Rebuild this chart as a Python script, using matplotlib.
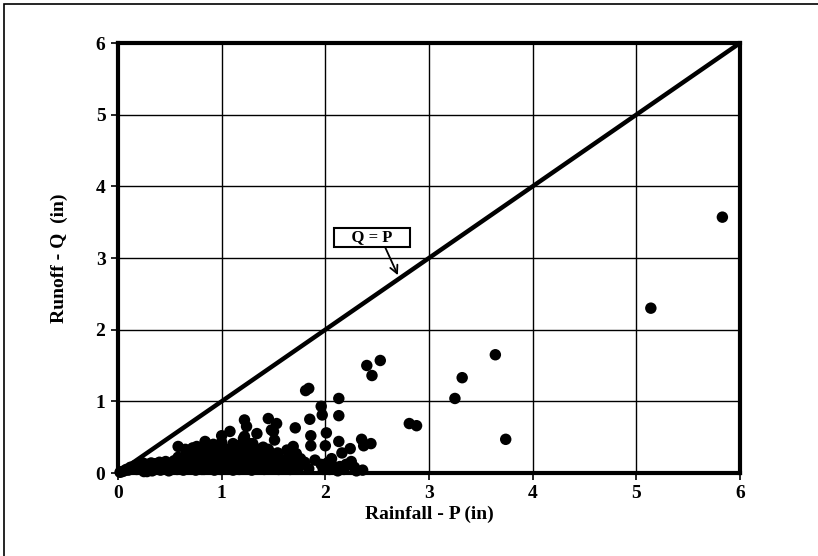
import matplotlib
matplotlib.use("Agg")
import matplotlib.pyplot as plt
from matplotlib.patches import Rectangle

# Scattered (upper) events: rainfall P (in), runoff Q (in)
p_upper = [5.83, 5.14, 3.64, 3.32, 3.25, 3.74, 2.53, 2.40, 2.45, 2.13, 2.13,
           2.81, 2.88, 1.84, 1.81, 1.96, 1.97, 1.85, 1.71, 1.86, 2.01, 1.86,
           2.00, 2.13, 2.35, 2.44, 2.37, 2.24, 2.16, 2.25, 2.08, 2.14, 2.36,
           1.45, 1.53, 1.50, 1.22, 1.24, 1.08, 1.00, 1.22, 1.34, 1.21, 1.48,
           1.11, 1.51, 1.27, 0.58, 0.76, 0.85, 0.84, 1.69, 1.63, 1.72, 1.53]
q_upper = [3.57, 2.30, 1.65, 1.33, 1.04, 0.47, 1.57, 1.50, 1.36, 1.04, 0.80,
           0.69, 0.66, 1.18, 1.15, 0.93, 0.81, 0.75, 0.63, 0.52, 0.56, 0.38,
           0.38, 0.44, 0.47, 0.41, 0.38, 0.34, 0.28, 0.16, 0.09, 0.09, 0.04,
           0.76, 0.69, 0.58, 0.74, 0.65, 0.58, 0.52, 0.51, 0.55, 0.48, 0.60,
           0.41, 0.46, 0.41, 0.37, 0.37, 0.41, 0.44, 0.37, 0.32, 0.27, 0.25]

# Dense band of small events
p_band = [0.02, 0.04, 0.06, 0.08, 0.10, 0.12, 0.14, 0.16, 0.18, 0.20, 0.22,
          0.24, 0.26, 0.28, 0.30, 0.32, 0.34, 0.36, 0.38, 0.40, 0.42, 0.44,
          0.46, 0.48, 0.50, 0.52, 0.54, 0.56, 0.58, 0.60, 0.62, 0.64, 0.66,
          0.68, 0.70, 0.72, 0.74, 0.76, 0.78, 0.80, 0.82, 0.84, 0.86, 0.88,
          0.90, 0.92, 0.94, 0.96, 0.98, 1.00, 1.02, 1.04, 1.06, 1.08, 1.10,
          1.12, 1.14, 1.16, 1.18, 1.20, 1.22, 1.24, 1.26, 1.28, 1.30, 1.32,
          1.34, 1.36, 1.38, 1.40, 1.42, 1.44, 1.46, 1.48, 1.50, 1.52, 1.56,
          1.60, 1.64, 1.68, 1.72, 1.76, 1.80, 1.90, 1.96, 2.02, 2.06, 2.20,
          0.25, 0.33, 0.41, 0.49, 0.57, 0.63, 0.69, 0.75, 0.81, 0.87, 0.93,
          0.99, 1.05, 1.11, 1.17, 1.23, 1.29, 1.35, 1.41, 1.47, 1.55, 1.62,
          0.65, 0.71, 0.79, 0.85, 0.91, 0.97, 1.03, 1.09, 1.15, 1.21, 1.27,
          1.33, 1.39, 1.45, 0.60, 0.67, 0.73, 0.83, 0.89, 0.95, 1.07, 1.13,
          1.19, 1.25, 1.31, 1.37, 1.43, 1.58, 1.66, 1.74, 1.84, 1.98, 2.10,
          2.18, 2.28,
          0.30, 0.38, 0.46, 0.54, 0.62, 0.70, 0.78, 0.86, 0.94, 1.02, 1.10,
          1.18, 1.26, 1.34, 1.42, 1.50, 1.58, 0.66, 0.74, 0.82, 0.90, 0.98,
          1.06, 1.14, 1.22, 1.30, 1.38, 1.46, 1.54, 2.04, 2.12, 2.22, 2.30,
          0.92, 1.00, 1.16, 1.30, 0.72, 1.40, 0.18, 0.28]
q_band = [0.01, 0.02, 0.03, 0.05, 0.04, 0.08, 0.06, 0.10, 0.05, 0.12, 0.08,
          0.14, 0.06, 0.12, 0.09, 0.14, 0.05, 0.13, 0.08, 0.15, 0.11, 0.06,
          0.16, 0.09, 0.13, 0.05, 0.17, 0.10, 0.22, 0.14, 0.07, 0.19, 0.12,
          0.24, 0.09, 0.17, 0.26, 0.13, 0.22, 0.08, 0.18, 0.27, 0.14, 0.23,
          0.10, 0.28, 0.17, 0.25, 0.12, 0.30, 0.20, 0.09, 0.27, 0.16, 0.32,
          0.22, 0.12, 0.28, 0.18, 0.31, 0.10, 0.24, 0.29, 0.15, 0.26, 0.20,
          0.11, 0.28, 0.17, 0.23, 0.30, 0.13, 0.21, 0.27, 0.16, 0.24, 0.19,
          0.14, 0.22, 0.17, 0.12, 0.20, 0.15, 0.18, 0.12, 0.14, 0.20, 0.12,
          0.02, 0.03, 0.04, 0.03, 0.05, 0.04, 0.06, 0.04, 0.05, 0.06, 0.04,
          0.05, 0.06, 0.04, 0.05, 0.07, 0.04, 0.06, 0.05, 0.07, 0.05, 0.06,
          0.33, 0.30, 0.32, 0.29, 0.33, 0.31, 0.34, 0.30, 0.35, 0.33, 0.36,
          0.34, 0.31, 0.33, 0.20, 0.08, 0.15, 0.05, 0.11, 0.07, 0.13, 0.08,
          0.06, 0.10, 0.08, 0.09, 0.06, 0.09, 0.05, 0.07, 0.06, 0.05, 0.06,
          0.05, 0.08,
          0.10, 0.13, 0.11, 0.15, 0.18, 0.13, 0.16, 0.20, 0.18, 0.14, 0.21,
          0.16, 0.13, 0.21, 0.10, 0.12, 0.10, 0.27, 0.30, 0.26, 0.22, 0.27,
          0.24, 0.26, 0.22, 0.31, 0.27, 0.29, 0.28, 0.05, 0.03, 0.12, 0.03,
          0.40, 0.43, 0.38, 0.41, 0.35, 0.36, 0.09, 0.02]

x_ticks = [0, 1, 2, 3, 4, 5, 6]
y_ticks = [0, 1, 2, 3, 4, 5, 6]
line_pts = [0, 6]

serif = ["Liberation Serif", "DejaVu Serif"]

fig = plt.figure(figsize=(8.18, 5.56), dpi=100)
fig.patches.append(Rectangle((4 / 818, -0.1), 1.2, 1 - 4 / 556 + 0.1,
                             transform=fig.transFigure, fill=False,
                             edgecolor="black", linewidth=1.2))
ax = fig.add_axes([118 / 818, 1 - 473 / 556, (740 - 118) / 818, (473 - 43) / 556])

ax.grid(True, color="black", linewidth=1.0)
ax.set_axisbelow(True)
ax.plot(line_pts, line_pts, color="black", linewidth=3.2, zorder=2,
        solid_capstyle="butt")
ax.scatter(p_band + p_upper, q_band + q_upper, s=68, color="black",
           edgecolors="none", zorder=3, clip_on=False)

ax.set_xlim(0, 6)
ax.set_ylim(0, 6)
ax.set_xticks(x_ticks)
ax.set_yticks(y_ticks)
ax.set_xticklabels([str(v) for v in x_ticks])
ax.set_yticklabels([str(v) for v in y_ticks])
for sp in ax.spines.values():
    sp.set_linewidth(3)
ax.tick_params(direction="out", length=5, width=1.2, colors="black", pad=4)
for lab in ax.get_xticklabels() + ax.get_yticklabels():
    lab.set_fontfamily(serif)
    lab.set_fontweight("bold")
    lab.set_fontsize(14)

ax.set_xlabel("Rainfall - P (in)", fontfamily=serif, fontweight="bold",
              fontsize=14, labelpad=2)
ax.set_ylabel("Runoff - Q  (in)", fontfamily=serif, fontweight="bold",
              fontsize=14, labelpad=20)

ax.annotate("    Q = P    ", xy=(2.70, 2.76), xytext=(2.45, 3.285),
            fontfamily=serif, fontweight="bold", fontsize=12,
            ha="center", va="center",
            bbox=dict(boxstyle="square,pad=0.08", facecolor="white",
                      edgecolor="black", linewidth=1.5),
            arrowprops=dict(arrowstyle="->", color="black", lw=1.3,
                            shrinkA=0, shrinkB=0,
                            mutation_scale=14,
                            relpos=(0.67, 0.0)),
            zorder=5)

fig.savefig("out.png", dpi=100)
